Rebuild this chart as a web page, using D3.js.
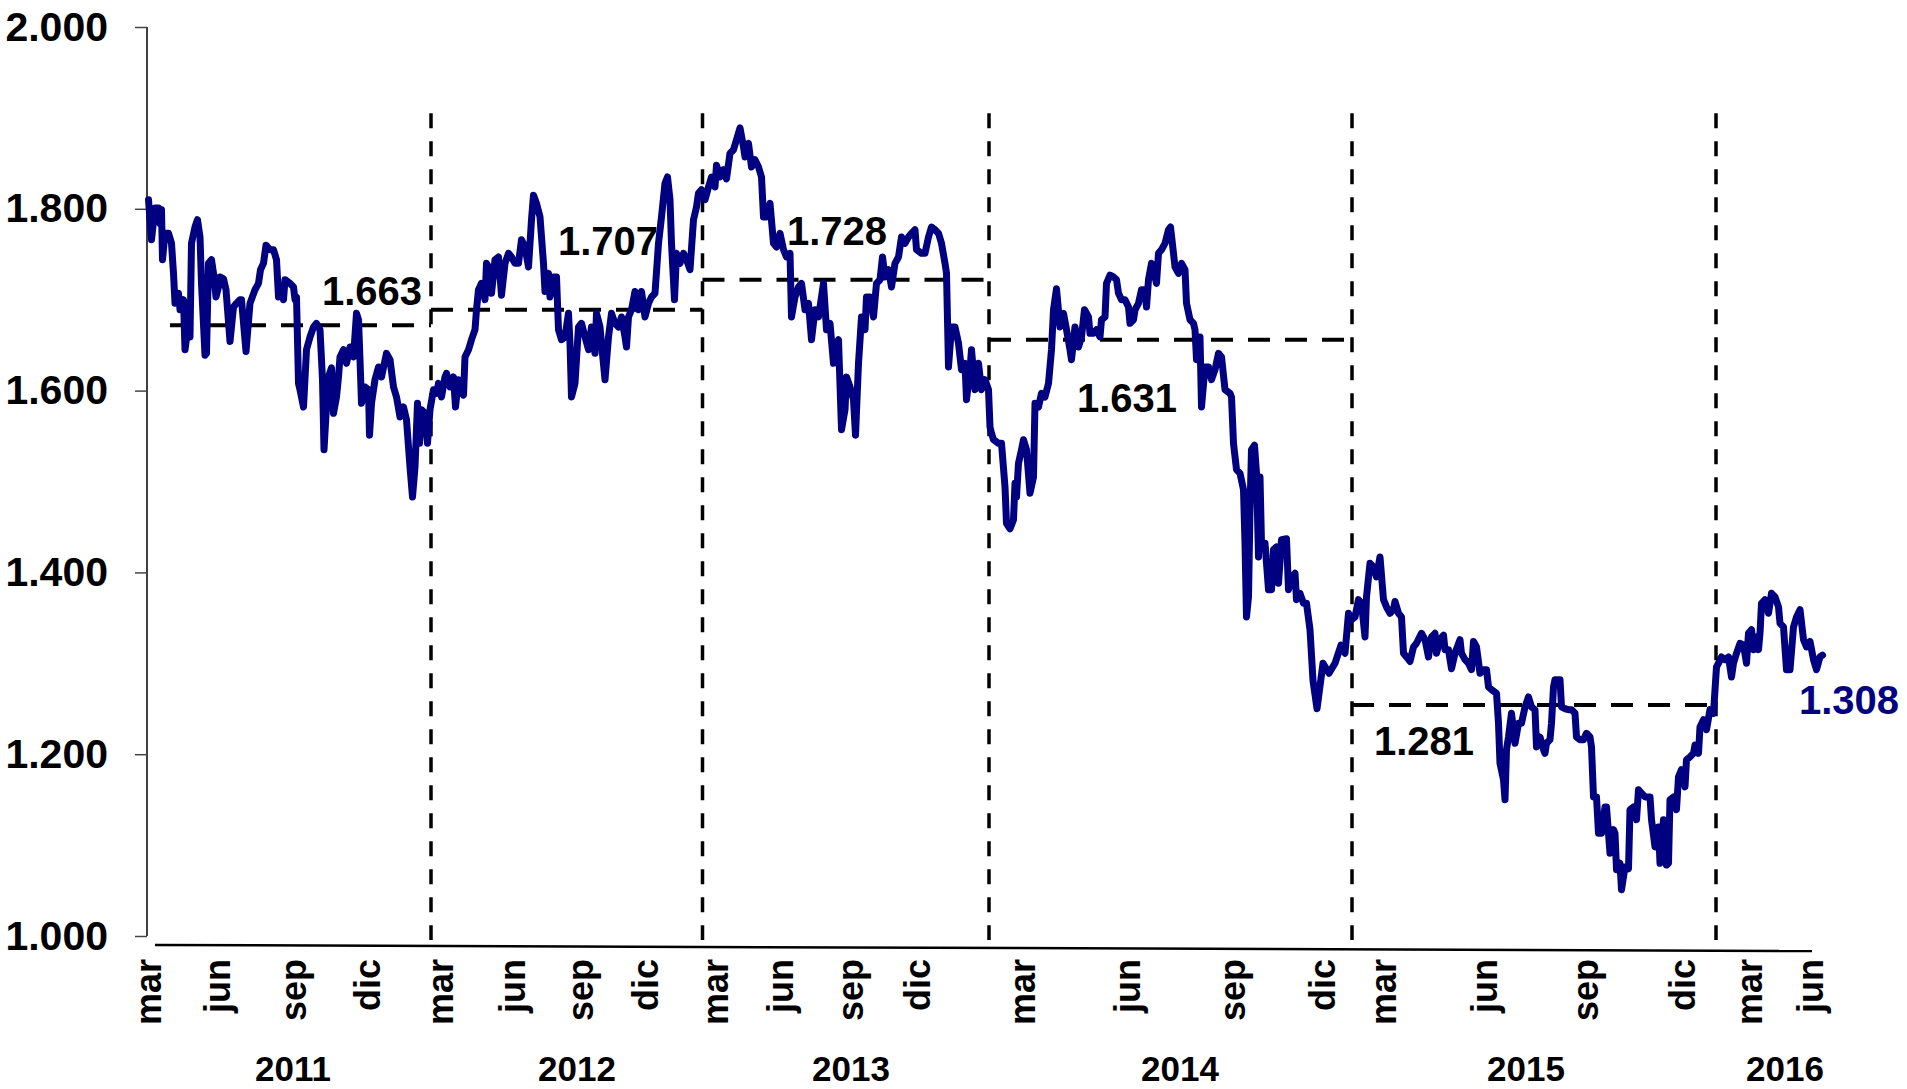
<!DOCTYPE html>
<html>
<head>
<meta charset="utf-8">
<script src="https://cdn.jsdelivr.net/npm/d3@7"></script>
<style>
  body { margin: 0; background: #fff; }
  svg { display: block; font-family: "Liberation Sans", Arial, sans-serif; font-weight: bold; }
</style>
</head>
<body>
<svg id="chart" width="1907" height="1089"></svg>
<script>
const rateSeries = [
  [0.1,1.810],[0.7,1.766],[1.4,1.801],[2.1,1.801],[2.4,1.784],[2.7,1.799],[2.9,1.744],[3.4,1.773],[4.1,1.773],[4.7,1.762],
  [5.1,1.729],[5.4,1.696],[6.1,1.707],[6.4,1.689],[7.1,1.700],[7.4,1.645],[8.1,1.674],[8.4,1.659],[8.7,1.762],[9.4,1.780],
  [9.9,1.788],[10.4,1.769],[10.7,1.718],[11.4,1.639],[11.7,1.641],[12.1,1.740],[12.7,1.744],[13.1,1.729],[13.6,1.703],[14.1,1.714],
  [14.4,1.725],[15.1,1.723],[15.6,1.711],[16.4,1.654],[17.1,1.692],[17.7,1.696],[18.4,1.700],[18.7,1.700],[19.6,1.643],[20.4,1.696],
  [21.4,1.711],[22.1,1.718],[22.5,1.733],[23.1,1.740],[23.6,1.760],[24.4,1.755],[25.1,1.755],[25.7,1.744],[26.1,1.703],[26.7,1.714],
  [27.1,1.700],[27.4,1.722],[28.4,1.718],[29.1,1.714],[29.4,1.700],[29.7,1.703],[30.1,1.608],[30.4,1.601],[31.1,1.582],[31.7,1.645],
  [32.4,1.659],[33.1,1.670],[33.7,1.674],[34.4,1.667],[34.9,1.612],[35.2,1.535],[35.5,1.564],[36.1,1.615],[36.7,1.625],[37.1,1.575],
  [37.7,1.593],[38.1,1.615],[38.4,1.637],[39.1,1.645],[39.7,1.630],[40.4,1.648],[41.1,1.637],[41.7,1.685],[42.1,1.678],[42.4,1.634],
  [42.7,1.586],[43.4,1.604],[44.1,1.601],[44.3,1.551],[44.7,1.586],[45.4,1.612],[46.1,1.626],[46.7,1.615],[47.7,1.641],[48.4,1.634],
  [49.1,1.604],[49.7,1.593],[50.4,1.571],[51.1,1.582],[51.7,1.568],[52.4,1.516],[52.9,1.483],[53.4,1.516],[53.9,1.586],[54.3,1.542],
  [54.7,1.579],[55.4,1.575],[55.9,1.542],[56.4,1.579],[57.1,1.601],[57.7,1.597],[58.1,1.608],[58.7,1.593],[59.4,1.615],[59.7,1.619],
  [60.4,1.604],[61.1,1.615],[61.5,1.582],[62.1,1.612],[63.1,1.595],[63.4,1.637],[64.1,1.645],[64.7,1.656],[65.4,1.667],[65.7,1.689],
  [66.1,1.711],[66.7,1.718],[67.4,1.700],[67.7,1.740],[68.1,1.736],[68.7,1.707],[69.4,1.744],[70.1,1.747],[70.7,1.705],[71.4,1.740],
  [72.1,1.751],[72.7,1.747],[73.4,1.740],[74.1,1.740],[74.7,1.766],[75.4,1.758],[76.1,1.736],[76.7,1.788],[77.1,1.815],[77.7,1.806],
  [78.4,1.791],[79.1,1.740],[79.4,1.709],[80.1,1.729],[80.4,1.703],[81.1,1.725],[81.7,1.725],[82.1,1.667],[82.7,1.656],[83.4,1.659],
  [84.1,1.685],[84.4,1.652],[84.7,1.593],[85.4,1.608],[86.1,1.670],[86.7,1.674],[87.4,1.659],[88.1,1.645],[88.7,1.670],[89.4,1.641],
  [89.7,1.685],[90.4,1.670],[90.7,1.652],[91.4,1.612],[92.1,1.659],[92.7,1.685],[93.4,1.674],[94.1,1.670],[94.7,1.681],[95.4,1.659],
  [95.7,1.648],[96.1,1.681],[96.7,1.689],[97.4,1.709],[98.1,1.689],[98.7,1.709],[99.4,1.681],[100.1,1.696],[100.7,1.703],[101.4,1.707],
  [102.1,1.762],[102.7,1.791],[103.4,1.828],[103.9,1.835],[104.4,1.810],[104.7,1.762],[105.3,1.700],[105.7,1.751],[106.4,1.740],[107.1,1.751],
  [107.7,1.744],[108.4,1.733],[109.1,1.788],[109.7,1.802],[110.1,1.817],[110.7,1.821],[111.4,1.810],[112.1,1.824],[112.7,1.835],[113.4,1.824],
  [113.7,1.848],[114.4,1.835],[115.1,1.843],[115.7,1.833],[116.4,1.861],[117.1,1.865],[117.7,1.876],[118.4,1.889],[119.1,1.868],[119.4,1.857],
  [120.1,1.872],[120.7,1.846],[121.4,1.854],[122.1,1.846],[122.7,1.835],[123.1,1.791],[123.7,1.791],[124.4,1.806],[125.1,1.762],[125.7,1.758],
  [126.4,1.773],[127.1,1.755],[127.7,1.747],[128.4,1.751],[128.7,1.681],[129.4,1.703],[130.1,1.714],[130.7,1.718],[131.4,1.689],[132.1,1.696],
  [132.7,1.656],[133.4,1.689],[134.1,1.681],[134.7,1.703],[135.1,1.718],[135.7,1.667],[136.4,1.674],[137.1,1.630],[137.7,1.652],[138.1,1.656],
  [138.7,1.557],[139.4,1.579],[139.7,1.615],[140.4,1.604],[141.1,1.590],[141.5,1.551],[142.1,1.630],[142.7,1.681],[143.4,1.667],[143.7,1.703],
  [144.4,1.703],[145.1,1.681],[145.7,1.718],[146.4,1.722],[146.9,1.747],[147.4,1.725],[148.1,1.733],[148.7,1.714],[149.4,1.740],[150.1,1.747],
  [150.7,1.769],[151.4,1.762],[152.1,1.769],[152.7,1.773],[153.4,1.777],[153.7,1.755],[154.7,1.751],[155.4,1.751],[156.1,1.769],[156.7,1.780],
  [157.4,1.777],[158.1,1.773],[158.7,1.762],[159.4,1.740],[159.7,1.729],[160.1,1.626],[160.7,1.670],[161.4,1.670],[162.1,1.652],[162.7,1.623],
  [163.4,1.630],[163.7,1.590],[164.4,1.623],[164.7,1.645],[165.4,1.601],[166.1,1.630],[166.7,1.601],[167.4,1.612],[168.1,1.601],[168.4,1.560],
  [168.7,1.553],[169.1,1.546],[170.1,1.542],[170.7,1.542],[171.4,1.494],[171.7,1.454],[172.4,1.448],[173.1,1.458],[173.4,1.498],[173.7,1.483],
  [174.1,1.520],[174.7,1.535],[175.1,1.546],[175.7,1.535],[176.4,1.487],[177.1,1.505],[177.4,1.586],[178.1,1.582],[178.7,1.597],[179.4,1.593],
  [180.1,1.608],[180.7,1.645],[181.1,1.689],[181.7,1.712],[182.4,1.670],[183.1,1.685],[183.7,1.667],[184.4,1.645],[184.7,1.634],[185.4,1.670],
  [186.1,1.648],[186.7,1.659],[187.3,1.689],[188.1,1.681],[188.4,1.663],[189.1,1.663],[189.7,1.667],[190.4,1.659],[190.7,1.678],[191.4,1.681],
  [191.7,1.718],[192.4,1.727],[193.1,1.725],[193.7,1.722],[194.1,1.707],[194.7,1.700],[195.4,1.700],[196.1,1.692],[196.4,1.674],[197.1,1.678],
  [197.4,1.689],[198.1,1.696],[198.7,1.711],[199.4,1.711],[199.7,1.692],[200.1,1.722],[200.7,1.740],[201.4,1.725],[201.7,1.718],[202.1,1.751],
  [202.7,1.755],[203.4,1.762],[204.1,1.777],[204.5,1.780],[205.1,1.751],[205.4,1.736],[206.1,1.729],[206.7,1.740],[207.4,1.733],[207.7,1.696],
  [208.4,1.678],[209.1,1.674],[209.4,1.667],[209.7,1.634],[210.1,1.637],[210.4,1.659],[210.7,1.582],[211.4,1.626],[212.1,1.626],[212.7,1.612],
  [213.4,1.623],[214.1,1.641],[214.7,1.637],[215.4,1.601],[216.4,1.597],[216.7,1.593],[217.1,1.542],[217.7,1.513],[218.4,1.509],[219.1,1.491],
  [219.4,1.432],[219.7,1.351],[220.1,1.373],[220.4,1.469],[220.7,1.535],[221.3,1.540],[221.7,1.509],[222.1,1.417],[222.4,1.505],[222.7,1.432],
  [223.4,1.432],[224.1,1.381],[224.7,1.381],[225.1,1.425],[225.7,1.428],[226.1,1.388],[226.7,1.436],[227.7,1.437],[228.1,1.381],[228.7,1.395],
  [229.4,1.399],[229.7,1.370],[230.4,1.377],[231.1,1.366],[231.7,1.366],[232.4,1.337],[233.0,1.281],[233.8,1.250],[235.0,1.300],[236.2,1.289],
  [237.4,1.300],[238.6,1.320],[239.4,1.311],[240.1,1.355],[240.7,1.348],[241.4,1.351],[242.1,1.370],[242.7,1.366],[243.4,1.329],[243.7,1.373],
  [244.4,1.410],[245.1,1.406],[245.7,1.395],[246.4,1.417],[247.1,1.370],[247.7,1.362],[248.4,1.355],[249.1,1.359],[249.4,1.368],[250.1,1.355],
  [250.7,1.351],[251.1,1.311],[251.7,1.307],[252.4,1.302],[253.1,1.318],[253.7,1.322],[254.7,1.333],[255.4,1.326],[256.1,1.307],[256.7,1.329],
  [257.4,1.333],[257.7,1.311],[258.4,1.326],[259.1,1.331],[259.4,1.315],[260.1,1.315],[260.7,1.294],[261.4,1.311],[262.4,1.326],[262.7,1.311],
  [263.4,1.304],[264.1,1.300],[264.7,1.293],[265.1,1.324],[265.7,1.318],[266.4,1.289],[267.1,1.293],[267.7,1.293],[268.1,1.274],[268.7,1.271],
  [269.7,1.267],[270.1,1.234],[270.4,1.190],[271.1,1.172],[271.4,1.150],[271.7,1.205],[272.1,1.219],[272.7,1.245],[273.4,1.212],[274.1,1.234],
  [274.7,1.234],[275.4,1.252],[276.1,1.263],[276.7,1.252],[277.4,1.249],[277.7,1.208],[278.4,1.219],[279.1,1.205],[279.4,1.201],[279.7,1.212],
  [280.4,1.216],[280.7,1.234],[281.1,1.274],[281.4,1.282],[282.4,1.282],[282.7,1.252],[283.4,1.250],[284.1,1.249],[284.7,1.249],[285.4,1.245],
  [285.7,1.219],[286.4,1.216],[287.1,1.216],[287.7,1.223],[288.4,1.219],[288.7,1.208],[289.1,1.153],[289.7,1.153],[290.1,1.113],[290.7,1.113],
  [291.4,1.142],[291.7,1.142],[292.4,1.091],[293.1,1.117],[293.4,1.113],[293.7,1.073],[294.4,1.080],[294.7,1.051],[295.4,1.076],[296.1,1.074],
  [296.4,1.139],[297.1,1.142],[297.7,1.128],[298.1,1.161],[298.7,1.157],[299.4,1.153],[300.4,1.153],[300.7,1.128],[301.4,1.098],[301.7,1.098],
  [302.1,1.120],[302.4,1.080],[303.1,1.128],[303.7,1.078],[304.1,1.080],[304.4,1.150],[305.1,1.153],[305.7,1.139],[306.1,1.175],[306.7,1.183],
  [307.4,1.164],[307.7,1.194],[308.4,1.197],[309.1,1.201],[309.4,1.210],[310.1,1.201],[310.4,1.230],[311.1,1.238],[311.7,1.227],[312.4,1.249],
  [313.1,1.245],[313.4,1.271],[313.7,1.296],[314.1,1.300],[314.7,1.307],[315.4,1.304],[316.1,1.307],[316.7,1.285],[317.1,1.300],[317.7,1.311],
  [318.4,1.322],[319.1,1.320],[319.7,1.300],[320.1,1.333],[320.7,1.337],[321.1,1.315],[321.7,1.329],[322.1,1.315],[322.4,1.333],[322.7,1.366],
  [323.4,1.370],[324.1,1.355],[324.7,1.377],[325.4,1.373],[326.1,1.362],[326.4,1.344],[327.1,1.340],[327.7,1.293],[328.4,1.293],[329.1,1.340],
  [329.7,1.351],[330.4,1.359],[331.1,1.326],[331.7,1.318],[332.4,1.324],[333.1,1.304],[333.7,1.293],[334.4,1.307],[334.9,1.309]
];

const monthLabels = ['mar','jun','sep','dic','mar','jun','sep','dic','mar','jun','sep','dic',
                     'mar','jun','sep','dic','mar','jun','sep','dic','mar','jun'];
const monthObs = [0.6,14.4,29.6,44.4, 59,73.4,87,100, 114,127,141,154.4,
                  175.4,196.4,217.4,235.4, 247.6,267.8,288,307.4, 320.8,333];

const years = ['2011','2012','2013','2014','2015','2016'];
const yearObs = [29, 85.8, 140.6, 206.4, 275.6, 327.4];

// year breaks (dashed verticals)
const breakObs = [56.6, 110.9, 168.2, 240.8, 313.6];

// yearly averages
const avgStart = [4.4, 56.6, 110.9, 168.2, 240.8];
const avgEnd = [56.6, 110.9, 168.2, 240.8, 313.6];
const avgLevel = [1.672, 1.689, 1.722, 1.656, 1.254];
const avgText = ['1.663', '1.707', '1.728', '1.631', '1.281'];
const avgLabelObs = [44.8, 92, 137.8, 195.8, 255.2];
const avgLabelVal = [1.694, 1.749, 1.760, 1.576, 1.199];

const lastText = '1.308';
const lastLabelObs = 340.2, lastLabelVal = 1.244;

const yTicks = [1.0, 1.2, 1.4, 1.6, 1.8, 2.0];

const svg = d3.select('#chart');

const x = d3.scaleLinear().domain([0, 335]).range([148, 1823]);
const y = d3.scaleLinear().domain([1, 2]).range([936, 27]);

// y axis
const yAxis = svg.append('g')
  .attr('transform', 'translate(147,0)')
  .call(d3.axisLeft(y).tickValues(yTicks).tickFormat(d3.format('.3f')).tickSize(12).tickPadding(27));
yAxis.select('.domain').attr('stroke', '#000').attr('stroke-width', 1.5).attr('d', 'M0,' + y(2) + 'V' + y(1));
yAxis.selectAll('.tick line').attr('stroke', '#444').attr('stroke-width', 1.5);
yAxis.selectAll('.tick text')
  .attr('fill', '#000')
  .style('font-size', '41px')
  .style('font-weight', 'bold')
  .style('font-family', '"Liberation Sans", Arial, sans-serif');

// x axis base line
svg.append('line')
  .attr('x1', x(1.4)).attr('y1', y(1) + 9)
  .attr('x2', x(332.8)).attr('y2', y(1) + 15)
  .attr('stroke', '#000').attr('stroke-width', 2.5);

// month labels
svg.append('g').selectAll('text')
  .data(monthLabels)
  .join('text')
  .attr('transform', (d, i) => 'translate(' + x(monthObs[i]) + ',959) rotate(-90)')
  .attr('text-anchor', 'end')
  .attr('dy', '0.27em')
  .style('font-size', '36px')
  .text(d => d);

// year labels
svg.append('g').selectAll('text')
  .data(years)
  .join('text')
  .attr('x', (d, i) => x(yearObs[i]))
  .attr('y', 1081)
  .attr('text-anchor', 'middle')
  .style('font-size', '35px')
  .text(d => d);

// dashed year breaks
svg.append('g').selectAll('line')
  .data(breakObs)
  .join('line')
  .attr('x1', d => x(d)).attr('x2', d => x(d))
  .attr('y1', y(1.905)).attr('y2', y(1) + 4)
  .attr('stroke', '#000')
  .attr('stroke-width', 3.5)
  .attr('stroke-dasharray', '15,13');

// yearly average lines
svg.append('g').selectAll('line')
  .data(avgLevel)
  .join('line')
  .attr('x1', (d, i) => x(avgStart[i]))
  .attr('x2', (d, i) => x(avgEnd[i]))
  .attr('y1', d => y(d)).attr('y2', d => y(d))
  .attr('stroke', '#000')
  .attr('stroke-width', 4)
  .attr('stroke-dasharray', '22,15');

// main series
const line = d3.line()
  .x(d => x(d[0]))
  .y(d => y(d[1]));

svg.append('path')
  .datum(rateSeries)
  .attr('fill', 'none')
  .attr('stroke', '#000080')
  .attr('stroke-width', 7)
  .attr('stroke-linejoin', 'round')
  .attr('stroke-linecap', 'round')
  .attr('d', line);

// average labels
svg.append('g').selectAll('text')
  .data(avgText)
  .join('text')
  .attr('x', (d, i) => x(avgLabelObs[i]))
  .attr('y', (d, i) => y(avgLabelVal[i]))
  .attr('text-anchor', 'middle')
  .style('font-size', '40px')
  .text(d => d);

// last value
svg.append('text')
  .attr('x', x(lastLabelObs))
  .attr('y', y(lastLabelVal))
  .attr('text-anchor', 'middle')
  .attr('fill', '#000080')
  .style('font-size', '40px')
  .text(lastText);
</script>
</body>
</html>
